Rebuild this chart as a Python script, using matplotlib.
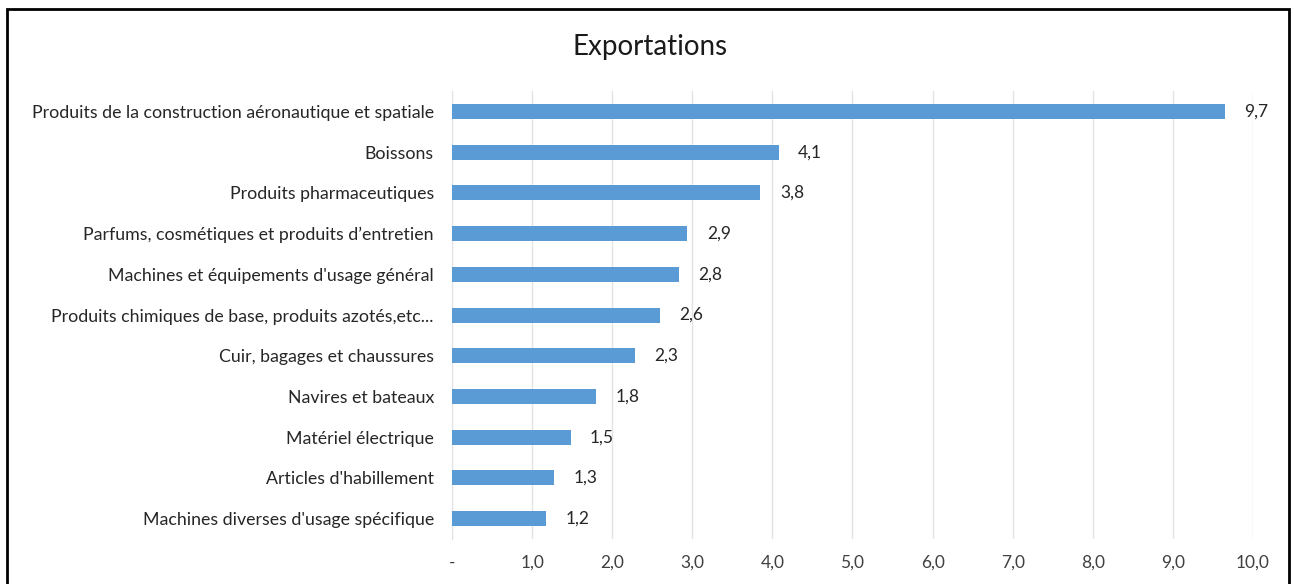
import matplotlib.pyplot as plt
from matplotlib.patches import Rectangle

# data (values, top to bottom)
categories = [
    "Produits de la construction aéronautique et spatiale",
    "Boissons",
    "Produits pharmaceutiques",
    "Parfums, cosmétiques et produits d\u2019entretien",
    "Machines et équipements d'usage général",
    "Produits chimiques de base, produits azotés,etc...",
    "Cuir, bagages et chaussures",
    "Navires et bateaux",
    "Matériel électrique",
    "Articles d'habillement",
    "Machines diverses d'usage spécifique",
]
values = [9.65, 4.08, 3.85, 2.94, 2.83, 2.60, 2.28, 1.80, 1.48, 1.28, 1.17]
labels = ["9,7", "4,1", "3,8", "2,9", "2,8", "2,6", "2,3", "1,8", "1,5", "1,3", "1,2"]
xticks = [0, 1, 2, 3, 4, 5, 6, 7, 8, 9, 10]
xticklabels = ["-", "1,0", "2,0", "3,0", "4,0", "5,0", "6,0", "7,0", "8,0", "9,0", "10,0"]

plt.rcParams['font.family'] = ['Lato', 'DejaVu Sans']

fig = plt.figure(figsize=(12.95, 5.84), dpi=100)
ax = fig.add_axes([0.349, 0.077, 0.6186, 0.767])

ypos = list(range(len(categories)))[::-1]
ax.barh(ypos, values, height=0.37, color="#5b9bd5", zorder=3)

for y, v, t in zip(ypos, values, labels):
    ax.annotate(t, (v, y), xytext=(14, 0), textcoords="offset points",
                va="center", ha="left", fontsize=12.5, color="#262626")

ax.set_xlim(0, 10)
ax.set_ylim(-0.5, len(categories) - 0.5)
ax.set_yticks(ypos)
ax.set_yticklabels(categories, fontsize=12.8, color="#262626")
ax.set_xticks(xticks)
ax.set_xticklabels(xticklabels, fontsize=12.5, color="#404040")
ax.tick_params(axis="both", length=0)
ax.tick_params(axis="y", pad=13)
ax.tick_params(axis="x", pad=11)
ax.grid(axis="x", color="#e3e3e3", linewidth=1, zorder=0)
for s in ["top", "right", "bottom"]:
    ax.spines[s].set_visible(False)
ax.spines["left"].set_color("#d9d9d9")
ax.spines["left"].set_zorder(1)

fig.text(0.502, 0.919, "Exportations", ha="center", va="center",
         fontsize=20, color="#1a1a1a")

# black frame around the chart (open at the bottom)
fig.add_artist(Rectangle((7 / 1295, -0.05), 1282 / 1295, 1.05 - 9 / 584,
                         transform=fig.transFigure, fill=False,
                         edgecolor="black", linewidth=2))

fig.savefig("out.png", dpi=100)
